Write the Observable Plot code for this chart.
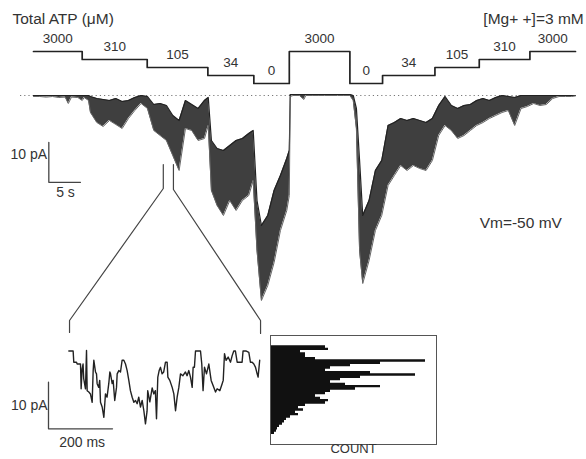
<!DOCTYPE html>
<html><head><meta charset="utf-8">
<script src="https://cdn.jsdelivr.net/npm/d3@7"></script>
<script src="https://cdn.jsdelivr.net/npm/@observablehq/plot@0.6"></script>
<style>
html,body{margin:0;padding:0;background:#fff;}
#wrap{position:relative;width:586px;height:459px;overflow:hidden;font-family:"Liberation Sans",Arial,sans-serif;}
#wrap svg{position:absolute;background:transparent;}
</style></head>
<body><div id="wrap"></div>
<script>
// ---- main current trace (time s, current pA: envelope hi / lo) ----
const traceT  = [0,1,2,3,4,5,5.5,6,7,7.7,8,8.7,9,10,11,12,13,14,15,16,17,18,19,20,21,22,23,24,25,26,27,27.6,28.1,29,30,31,32,33,34,34.7,35.3,36,37,38,39,40,40.4,40.55,41,42,42.7,43,44,45,46,47,48,49,49.97,50.5,51,51.5,52,53,54,55,56,57,58,59,60,61,62,63,64,65,66,67,68,69,70,71,72,73,74,75,76,77,78,79,80,81,82,83,84,85,85.6];
const traceHi = [0,0,0,0,0,0,0,0,0,0,0,0,-0.25,-0.75,-1,-1.25,-0.75,-1.5,-1.25,-0.5,0,-0.25,-2.25,-2,-2.5,-5,-6.25,-1.25,-2.25,-3.25,-1.25,-0.5,-11.25,-13.25,-13.75,-12.5,-11.25,-10.75,-9.5,-8.75,-26.25,-32.5,-30,-23.75,-20,-15.75,-13.75,0.25,0.25,0.25,0.25,0.25,0.25,0.25,0.25,0.25,0.25,0.25,0.25,0,-3.25,-16.25,-30,-26.25,-18.75,-16.25,-7.5,-6.75,-5.75,-6.25,-5.75,-6.25,-6.75,-5.75,-2.5,-0.25,-2.5,-3.25,-2.5,-2.25,-1.25,-0.75,-1.25,-0.5,0,-0.25,-0.5,0,0,0,0,0,0,0,0,0,0];
const traceLo = [-0.25,-0.25,-0.4,-0.25,-0.5,-0.4,-2,-0.4,-0.5,-1.25,-0.5,-1.25,-4.25,-6.75,-7.75,-6.25,-7.25,-8.25,-5.75,-3.75,-2,-3.25,-8.75,-10,-11.25,-15,-18.75,-8.25,-8.75,-11.25,-10.75,-7.5,-23.75,-27.5,-30,-26.25,-28.75,-26.25,-25,-21.25,-38.75,-51.25,-47.5,-41.75,-33.75,-28.75,-25,-0.25,0,0,-1,0,0,0,0,0,0,0,0,-1.25,-8.25,-38.75,-47,-41.25,-33.75,-30,-22.5,-20,-17.5,-18.75,-17.5,-18.25,-18.75,-16.25,-10,-7.5,-8.75,-10.75,-10,-8.75,-7.5,-6.75,-5.75,-5,-4.25,-3.75,-7.5,-3.25,-2.75,-2,-2.5,-2.25,-0.75,-0.25,-0.25,-0.25,-0.1];

// ---- ATP protocol (total ATP, µM) ----
const atpLevels = [3000, 310, 105, 34, 0];
const stepStart = [0, 7.69, 17.96, 27.54, 34.8, 40.4, 49.97, 55.13, 63.4, 70.4, 78.4];
const stepATP   = [3000, 310, 105, 34, 0, 3000, 0, 34, 105, 310, 3000];
const stepEnd   = 85.6;

// ---- expanded inset trace (time ms, current pA) ----
const insetT = [63.5,77,79,87.5,89.6,100,102,105,108,110,115.6,118.8,120.8,126,131,136.5,139.6,141.7,146.9,150,152,157,160,162.5,167.7,173,178,183,188.5,191.7,193.8,199,202,207,212.5,214.6,219.8,225,230,235.4,240.6,245.8,251,256,261.5,266.7,272,277,282,287.5,292.7,298,303,308,310,316.7,324,329,334,337.5,341.6,345.8,350,355,360,365.6,370.8,373,379,386.5,391.7,397,402,407.3,412.5,420,428,433,438.5,443.7,449,452,456,459.4,467.7,475,479,483,487.5,493.7,501,508.3,516.7,522,527,535.4,542.7,546,550,555,561.5,568.8,574,579,584,589.6,598,605,608,616.7,626,631,636.5,641.7,647,652,655,660];
const insetI = [-0.1,-0.1,-2.5,-2.5,-2.9,-2.9,-8.2,-4,-2.9,-6,-8.2,0,-8.6,-8.9,-9.3,-11.1,-4.3,-2.1,-4.6,-5,-7.1,-7.9,-6.4,-11.1,-12.1,-14.3,-9.3,-10,-7,-4.6,-5,-7.1,-6.4,-10.7,-7.9,-5,-4.3,-4.6,-2.1,-2.1,-2.9,-4.3,-6.4,-8.6,-10,-11.1,-10.7,-11.4,-10,-12.1,-10.7,-12.9,-15.7,-13,-8.6,-11,-8,-9.3,-8.6,-14.6,-5.7,-4.3,-3.6,-5,-4.6,-2.5,-2.5,-5.7,-6.4,-7.9,-9.3,-12.9,-10,-7.9,-5,-5.4,-4.6,-5.4,-4.3,-5.7,-7.9,-3.6,-3.6,-0.1,-0.1,-0.1,-2.9,-8.6,-3.6,-5,-2.9,-6.4,-7.9,-8.9,-8.2,-8.6,-7.1,-6.4,-0.7,-2.1,-1.4,-2.5,-1.1,-0.1,-0.1,-2.5,-2.5,-2.5,-0.1,-0.1,-0.4,-2.5,-2.5,-2.9,-3.6,-5,-5.7,-2.1];

// ---- amplitude histogram (bin centre pA, count) ----
const histPA = [0.75,0.25,-0.25,-0.75,-1.25,-1.75,-2.25,-2.75,-3.25,-3.75,-4.25,-4.75,-5.25,-5.75,-6.25,-6.75,-7.25,-7.75,-8.25,-8.75,-9.25,-9.75,-10.25,-10.75,-11.25,-11.75,-12.25,-12.75,-13.25,-13.75,-14.25,-14.75,-15.25,-15.75,-16.25,-16.75,-17.25,-17.75];
const histCount = [55,58,30,35,35,45,155,110,80,60,55,100,145,90,70,60,75,110,85,60,55,45,50,58,55,35,28,33,25,28,20,16,14,12,9,7,6,4];
const binWidth = 0.5;

// ---- annotation geometry (main-trace units: s, pA) ----
const zoomLeft  = [{t:20.5,i:-17.25},{t:20.5,i:-23.25},{t:5.69,i:-56.25},{t:5.69,i:-59.25}];
const zoomRight = [{t:22.1,i:-17.25},{t:22.1,i:-23.5},{t:35.86,i:-56.25},{t:35.86,i:-59.5}];
const scaleBarMain = [{t:2.42,i:-11.7},{t:2.42,i:-21.7},{t:7.42,i:-21.7}];
const scaleBarInset = [{ms:0,i:-6.78},{ms:0,i:-16.78},{ms:200,i:-16.78}];
const labelsStart = [
  {t:-3.32, i:19, text:"Total ATP (\u03bcM)", size:15.5},
  {t:70.46, i:-32, text:"Vm=-50 mV", size:15.5}
];
const labelsEnd = [
  {t:86.9, i:19, text:"[Mg+ +]=3 mM", size:15.5},
  {t:2.16, i:-14.7, text:"10 pA", size:14}
];
const labelsMid = [
  {t:5.06, i:-24.2, text:"5 s", size:14}
];
const insetLabelsEnd = [{ms:-3.1, i:-11.8, text:"10 pA"}];
const insetLabelsMid = [{ms:105, i:-19.6, text:"200 ms"}];

const FONT = "Liberation Sans, Arial, Helvetica, sans-serif";
const INK = "#222";
const TXT = "#333";

const trace = traceT.map((t, k) => ({t, hi: traceHi[k], lo: traceLo[k]}));
const steps = stepStart.map((s, k) => ({start:s, end: k < stepStart.length - 1 ? stepStart[k+1] : stepEnd, atp: stepATP[k]}));
const protoPts = steps.map(d => ({t:d.start, atp:d.atp})).concat([{t:stepEnd, atp:stepATP[stepATP.length-1]}]);
const inset = insetT.map((ms, k) => ({ms, i: insetI[k]}));
// histogram outline: each bin contributes its two edges at its count (step profile)
const histSteps = histPA.flatMap((c, k) => [{y: c + binWidth/2, count: histCount[k]}, {y: c - binWidth/2, count: histCount[k]}]);

const xMain = {domain:[0, 85.6], range:[33, 575], axis:null};
const wrap = document.getElementById("wrap");
const txt = (data, anchor, xk) => Plot.text(data, {x:xk, y:"i", text:"text", textAnchor:anchor, fontSize:d => d.size || 14, fill:TXT});

const main = Plot.plot({
  width:586, height:459, margin:0,
  style:{fontFamily:FONT, background:"transparent"},
  x: xMain,
  y: {domain:[0,-50], range:[95,295], axis:null},
  marks: [
    Plot.ruleY([0], {x1:-2.05, x2:86.1, stroke:"#777", strokeDasharray:"1.2,3", strokeWidth:1}),
    Plot.areaY(trace, {x:"t", y1:"lo", y2:"hi", fill:"#2a2a2a", fillOpacity:0.9}),
    Plot.line(trace, {x:"t", y:"hi", stroke:INK, strokeWidth:1.2}),
    Plot.line(trace, {x:"t", y:"lo", stroke:"#666", strokeWidth:1}),
    Plot.line(zoomLeft, {x:"t", y:"i", stroke:"#444", strokeWidth:1.2}),
    Plot.line(zoomRight, {x:"t", y:"i", stroke:"#444", strokeWidth:1.2}),
    Plot.line(scaleBarMain, {x:"t", y:"i", stroke:"#444", strokeWidth:1.3}),
    txt(labelsStart, "start", "t"),
    txt(labelsEnd, "end", "t"),
    txt(labelsMid, "middle", "t")
  ]
});
main.style.left = "0px"; main.style.top = "0px";
wrap.appendChild(main);

const proto = Plot.plot({
  width:586, height:100, margin:0,
  style:{fontFamily:FONT, background:"transparent"},
  x: xMain,
  y: {type:"point", domain:atpLevels, range:[49.5, 84], padding:0, axis:null},
  marks: [
    Plot.line(protoPts, {x:"t", y:"atp", curve:"step-after", stroke:INK, strokeWidth:1.7}),
    Plot.text(steps, {x:d => (d.start + d.end)/2, y:"atp", text:d => String(d.atp), dy:-13, fontSize:13.5, fill:TXT})
  ]
});
proto.style.left = "0px"; proto.style.top = "0px";
wrap.appendChild(proto);

const insetPlot = Plot.plot({
  width:586, height:459, margin:0,
  style:{fontFamily:FONT, background:"transparent"},
  x: {domain:[0,200], range:[48,112], axis:null},
  y: {domain:[0,-10], range:[350,396.7], axis:null},
  marks: [
    Plot.line(inset, {x:"ms", y:"i", stroke:INK, strokeWidth:1.4}),
    Plot.line(scaleBarInset, {x:"ms", y:"i", stroke:"#444", strokeWidth:1.3}),
    txt(insetLabelsEnd, "end", "ms"),
    txt(insetLabelsMid, "middle", "ms")
  ]
});
insetPlot.style.left = "0px"; insetPlot.style.top = "0px";
wrap.appendChild(insetPlot);

const histPlot = Plot.plot({
  width:167, height:126, marginTop:0, marginLeft:0, marginRight:1, marginBottom:17,
  style:{fontFamily:FONT, background:"transparent"},
  x: {domain:[0,166], axis:null},
  y: {domain:[-20.13, 3.21], axis:null},
  marks: [
    Plot.areaX(histSteps, {y:"y", x1:() => 0, x2:"count", fill:"#111"}),
    Plot.frame({stroke:"#555", strokeWidth:1}),
    Plot.text(["COUNT"], {frameAnchor:"bottom", dy:8, fontSize:13, fill:TXT})
  ]
});
histPlot.style.left = "270px"; histPlot.style.top = "335px";
wrap.appendChild(histPlot);
</script></body></html>
